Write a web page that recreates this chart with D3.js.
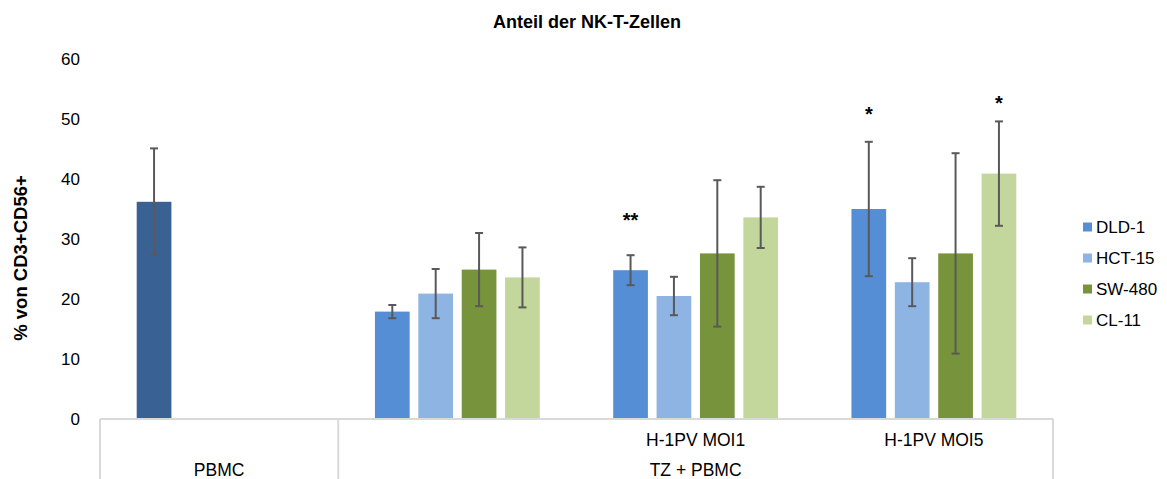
<!DOCTYPE html>
<html>
<head>
<meta charset="utf-8">
<script src="https://cdn.jsdelivr.net/npm/d3@7"></script>
<style>
  body { margin: 0; background: #fff; }
  text { font-family: "Liberation Sans", Arial, sans-serif; fill: #000; }
</style>
</head>
<body>
<svg width="1167" height="479"></svg>
<script>
// data
var subLabels = ["", "", "H-1PV MOI1", "H-1PV MOI5"];
var groupLabels = ["PBMC", "TZ + PBMC"];
var groupFirst = [0, 1], groupLast = [0, 3];
var seriesNames = ["DLD-1", "HCT-15", "SW-480", "CL-11"];
var seriesColors = ["#558ED5", "#8EB4E3", "#77933C", "#C3D69B"];
var pbmcColor = "#3A6194";

var dld = [36.2, 17.9, 24.8, 35.0];
var hct = [null, 20.9, 20.5, 22.8];
var sw  = [null, 24.9, 27.6, 27.6];
var cl  = [null, 23.6, 33.6, 40.9];

var dldErr = [8.9, 1.1, 2.5, 11.2];
var hctErr = [null, 4.1, 3.2, 4.0];
var swErr  = [null, 6.1, 12.2, 16.7];
var clErr  = [null, 5.0, 5.1, 8.7];

// significance marks: category, series, label, height (in % units)
var sigCat = [2, 3, 3];
var sigSeries = [0, 0, 3];
var sigText = ["**", "*", "*"];
var sigY = [34.1, 51.8, 53.6];

var yTicks = [0, 10, 20, 30, 40, 50, 60];

var values = [dld, hct, sw, cl];
var errs = [dldErr, hctErr, swErr, clErr];

var svg = d3.select("svg");

var plotLeft = 100, plotRight = 1053, plotTop = 59, plotBottom = 419;

var x0 = d3.scaleBand().domain(d3.range(subLabels.length)).range([plotLeft, plotRight]);
var inner = 36.7;
var x1 = d3.scaleBand().domain(d3.range(seriesNames.length))
  .range([inner, x0.bandwidth() - inner]).paddingInner(0.2).paddingOuter(0);
var y = d3.scaleLinear().domain([0, 60]).range([plotBottom, plotTop]);

// flatten into bar records
var bars = [];
seriesNames.forEach(function(s, si) {
  values[si].forEach(function(v, ci) {
    if (v == null) return;
    bars.push({ s: si, c: ci, v: v, e: errs[si][ci] });
  });
});

// title
svg.append("text")
  .attr("x", 587).attr("y", 28)
  .attr("text-anchor", "middle")
  .style("font-size", "18px").style("font-weight", "bold")
  .text("Anteil der NK-T-Zellen");

// y axis
var yAxis = d3.axisLeft(y).tickValues(yTicks).tickSize(0).tickPadding(20);
var yg = svg.append("g").attr("transform", "translate(" + plotLeft + ",0)").call(yAxis);
yg.select(".domain").remove();
yg.selectAll("text")
  .style("font-size", "17px")
  .style("font-family", "'Liberation Sans', Arial, sans-serif")
  .attr("fill", "#000");

svg.append("text")
  .attr("transform", "translate(27," + 258 + ") rotate(-90)")
  .attr("text-anchor", "middle")
  .style("font-size", "18.5px").style("font-weight", "bold")
  .text("% von CD3+CD56+");

// bars
svg.selectAll("rect.bar")
  .data(bars)
  .enter()
    .append("rect")
    .attr("class", "bar")
    .attr("x", function(d) { return x0(d.c) + x1(d.s); })
    .attr("y", function(d) { return y(d.v); })
    .attr("width", x1.bandwidth())
    .attr("height", function(d) { return y(0) - y(d.v); })
    .style("fill", function(d) { return d.c === 0 ? pbmcColor : seriesColors[d.s]; });

// error bars
var eb = svg.selectAll("g.err")
  .data(bars)
  .enter()
    .append("g")
    .attr("class", "err")
    .attr("transform", function(d) { return "translate(" + (x0(d.c) + x1(d.s) + x1.bandwidth() / 2) + ",0)"; })
    .style("stroke", "#595959")
    .style("stroke-width", 2);
eb.append("line")
  .attr("y1", function(d) { return y(d.v + d.e); })
  .attr("y2", function(d) { return y(d.v - d.e); });
eb.append("line")
  .attr("x1", -4).attr("x2", 4)
  .attr("y1", function(d) { return y(d.v + d.e); })
  .attr("y2", function(d) { return y(d.v + d.e); });
eb.append("line")
  .attr("x1", -4).attr("x2", 4)
  .attr("y1", function(d) { return y(d.v - d.e); })
  .attr("y2", function(d) { return y(d.v - d.e); });

// significance stars
svg.selectAll("text.sig")
  .data(sigText)
  .enter()
    .append("text")
    .attr("class", "sig")
    .attr("x", function(d, i) { return x0(sigCat[i]) + x1(sigSeries[i]) + x1.bandwidth() / 2; })
    .attr("y", function(d, i) { return y(sigY[i]); })
    .attr("dy", "0.62em")
    .attr("text-anchor", "middle")
    .style("font-size", "20px").style("font-weight", "bold")
    .text(function(d) { return d; });

// category axis box
var axisColor = "#d9d9d9";
svg.append("line")
  .attr("x1", plotLeft).attr("x2", plotRight).attr("y1", plotBottom).attr("y2", plotBottom)
  .style("stroke", axisColor).style("stroke-width", 2);
var edges = [plotLeft, plotRight];
groupFirst.forEach(function(f) { if (f > 0) edges.push(x0(f)); });
svg.selectAll("line.sep")
  .data(edges)
  .enter()
    .append("line")
    .attr("class", "sep")
    .attr("x1", function(d) { return d; }).attr("x2", function(d) { return d; })
    .attr("y1", plotBottom).attr("y2", 479)
    .style("stroke", axisColor).style("stroke-width", 2);

// inner labels
svg.selectAll("text.sub")
  .data(subLabels)
  .enter()
    .append("text")
    .attr("class", "sub")
    .attr("x", function(d, i) { return x0(i) + x0.bandwidth() / 2; })
    .attr("y", 446)
    .attr("text-anchor", "middle")
    .style("font-size", "17.5px")
    .text(function(d) { return d; });

// outer labels
svg.selectAll("text.grp")
  .data(groupLabels)
  .enter()
    .append("text")
    .attr("class", "grp")
    .attr("x", function(d, i) { return (x0(groupFirst[i]) + x0(groupLast[i]) + x0.bandwidth()) / 2; })
    .attr("y", 476)
    .attr("text-anchor", "middle")
    .style("font-size", "17.5px")
    .text(function(d) { return d; });

// legend
var lg = svg.selectAll("g.leg")
  .data(seriesNames)
  .enter()
    .append("g")
    .attr("class", "leg")
    .attr("transform", function(d, i) { return "translate(1083," + (227 + i * 31) + ")"; });
lg.append("rect")
  .attr("x", 0).attr("y", -4.5).attr("width", 9).attr("height", 9)
  .style("fill", function(d, i) { return seriesColors[i]; });
lg.append("text")
  .attr("x", 13).attr("dy", "0.36em")
  .style("font-size", "17px")
  .text(function(d) { return d; });
</script>
</body>
</html>
